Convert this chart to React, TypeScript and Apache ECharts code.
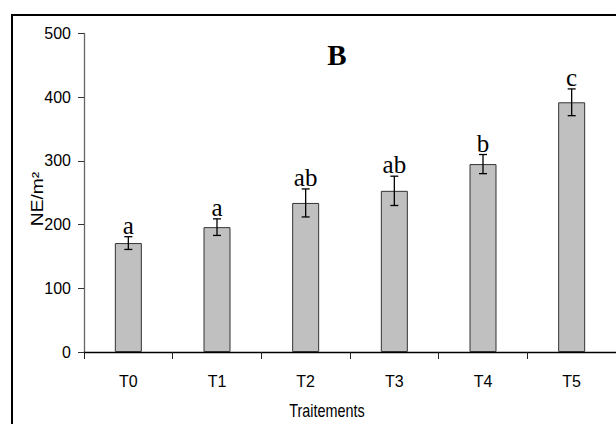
import React, { useEffect, useRef } from "react";
import * as echarts from "echarts";

const categories = ["T0", "T1", "T2", "T3", "T4", "T5"];
const means = [171, 196, 234, 253, 295, 392];
const errors = [10, 13, 22, 23, 15, 21];
const letters = ["a", "a", "ab", "ab", "b", "c"];
const yTicks = [0, 100, 200, 300, 400, 500];

const sans = "'Liberation Sans', Arial, sans-serif";
const serif = "'Liberation Serif', 'Times New Roman', serif";

export default function App() {
  const ref = useRef<HTMLDivElement>(null);
  useEffect(() => {
    if (!ref.current) return;
    const chart = echarts.init(ref.current, undefined, { renderer: "svg" });
    const errData = categories.map((_, i) => [i, means[i] - errors[i], means[i] + errors[i]]);
    chart.setOption({
      animation: false,
      backgroundColor: "#ffffff",
      grid: { left: 84, top: 33.5, width: 544, bottom: 72, containLabel: false },
      xAxis: {
        type: "category",
        data: categories,
        axisLine: { lineStyle: { color: "#000", width: 1.3 } },
        axisTick: { show: true, length: 7, lineStyle: { color: "#222" } },
        axisLabel: { color: "#000", fontFamily: sans, fontSize: 16, margin: 21 },
        splitLine: { show: false },
      },
      yAxis: {
        type: "value",
        min: yTicks[0],
        max: yTicks[yTicks.length - 1],
        interval: 100,
        axisLine: { show: true, lineStyle: { color: "#666", width: 1.3 } },
        axisTick: { show: true, length: 6, lineStyle: { color: "#333" } },
        axisLabel: { color: "#000", fontFamily: sans, fontSize: 16, margin: 13 },
        splitLine: { show: false },
      },
      series: [
        {
          type: "bar",
          data: means,
          barWidth: 27,
          itemStyle: { color: "#c0c0c0", borderColor: "#333", borderWidth: 1 },
        },
        {
          type: "custom",
          data: errData,
          z: 10,
          renderItem: (params: any, api: any) => {
            const i = api.value(0);
            const lo = api.coord([i, api.value(1)]);
            const hi = api.coord([i, api.value(2)]);
            const x = lo[0];
            const hw = 4;
            const style = { stroke: "#000", lineWidth: 1.3 };
            return {
              type: "group",
              children: [
                { type: "line", shape: { x1: x, y1: lo[1], x2: x, y2: hi[1] }, style },
                { type: "line", shape: { x1: x - hw, y1: lo[1], x2: x + hw, y2: lo[1] }, style },
                { type: "line", shape: { x1: x - hw, y1: hi[1], x2: x + hw, y2: hi[1] }, style },
                {
                  type: "text",
                  x: x,
                  y: hi[1] + 1,
                  style: {
                    text: letters[params.dataIndex],
                    font: `25px ${serif}`,
                    fill: "#000",
                    textAlign: "center",
                    textVerticalAlign: "bottom",
                  },
                },
              ],
            };
          },
        },
      ],
      graphic: [
        { type: "line", shape: { x1: 12, y1: 15, x2: 12, y2: 430 }, style: { stroke: "#000", lineWidth: 2 } },
        { type: "line", shape: { x1: 11, y1: 15, x2: 620, y2: 15 }, style: { stroke: "#000", lineWidth: 2 } },
        {
          type: "text",
          x: 337,
          y: 55,
          style: { text: "B", font: `bold 29px ${serif}`, fill: "#000", textAlign: "center", textVerticalAlign: "middle" },
        },
        {
          type: "text",
          x: 327,
          y: 410,
          scaleX: 0.8,
          style: { text: "Traitements", font: `18px ${sans}`, fill: "#000", textAlign: "center", textVerticalAlign: "middle" },
        },
        {
          type: "text",
          x: 38,
          y: 199,
          rotation: Math.PI / 2,
          scaleX: 1.2,
          style: { text: "NE/m²", font: `16px ${sans}`, fill: "#000", textAlign: "center", textVerticalAlign: "middle" },
        },
      ],
    });
    return () => chart.dispose();
  }, []);
  return <div ref={ref} style={{ position: "fixed", left: 0, top: 0, width: 616, height: 424 }} />;
}
